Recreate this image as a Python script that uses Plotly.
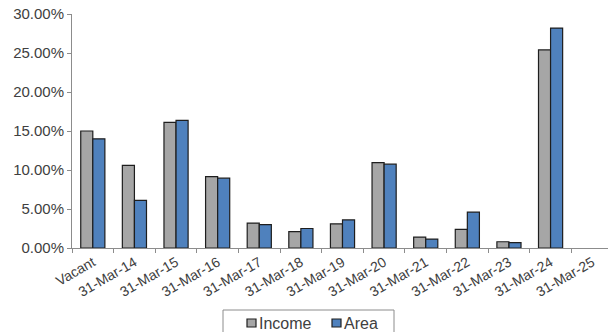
import plotly.graph_objects as go

categories = ["Vacant", "31-Mar-14", "31-Mar-15", "31-Mar-16", "31-Mar-17", "31-Mar-18",
              "31-Mar-19", "31-Mar-20", "31-Mar-21", "31-Mar-22", "31-Mar-23", "31-Mar-24",
              "31-Mar-25"]
income = [15.0, 10.6, 16.1, 9.15, 3.2, 2.1, 3.1, 10.95, 1.4, 2.4, 0.8, 25.4, 0.0]
area = [14.0, 6.1, 16.35, 8.95, 3.0, 2.5, 3.6, 10.75, 1.15, 4.6, 0.7, 28.2, 0.0]
y_ticks = [0, 5, 10, 15, 20, 25, 30]

series = [("Income", income, "#A6A6A6"), ("Area", area, "#4F81BD")]

W, H = 608, 332
M = dict(l=72, r=0, t=14, b=84)
font_color = "#404040"
outline = "#1e1e1e"
axis_color = "#8c8c8c"


def px_x(p):
    return (p - M["l"]) / (W - M["l"] - M["r"])


def px_y(p):
    return (H - M["b"] - p) / (H - M["t"] - M["b"])


fig = go.Figure()
for name, vals, color in series:
    fig.add_trace(go.Bar(
        name=name, x=categories, y=vals,
        marker=dict(color=color,
                    line=dict(color=outline, width=[1.2 if v > 0 else 0 for v in vals])),
    ))

# Boxed legend below the axis: a frame, a small swatch per series and its label
shapes = [dict(type="rect", xref="paper", yref="paper",
               x0=px_x(223), x1=px_x(394), y0=px_y(310), y1=px_y(345),
               line=dict(color=axis_color, width=1), fillcolor="white", layer="above")]
annotations = []
for (name, _, color), sx in zip(series, [247, 332]):
    shapes.append(dict(type="rect", xref="paper", yref="paper",
                       x0=px_x(sx), x1=px_x(sx + 9), y0=px_y(327), y1=px_y(319),
                       line=dict(color=outline, width=1.2), fillcolor=color, layer="above"))
    annotations.append(dict(text=name, xref="paper", yref="paper",
                            x=px_x(sx + 10), y=px_y(323.5), xanchor="left", yanchor="middle",
                            showarrow=False, font=dict(size=16, color=font_color)))

fig.update_layout(
    width=W, height=H,
    margin=dict(**M, autoexpand=False),
    paper_bgcolor="white", plot_bgcolor="white",
    barmode="group", bargap=0.42, bargroupgap=0.0,
    font=dict(family="Liberation Sans, Arial, sans-serif", size=15, color=font_color),
    showlegend=False,
    shapes=shapes, annotations=annotations,
    xaxis=dict(type="category", range=[-0.5, 12.38], showgrid=False, automargin=False,
               showline=True, linecolor=axis_color, linewidth=1,
               ticks="outside", tickson="boundaries", ticklen=4, tickcolor=axis_color,
               tickangle=-30, tickfont=dict(size=14)),
    yaxis=dict(range=[0, 30], tickvals=y_ticks, automargin=False,
               ticktext=[f"{v:.2f}%" for v in y_ticks],
               showgrid=False, zeroline=False,
               showline=True, linecolor=axis_color, linewidth=1,
               ticks="outside", ticklen=4, tickcolor=axis_color,
               tickfont=dict(size=15)),
)

fig.write_html("out.html")
